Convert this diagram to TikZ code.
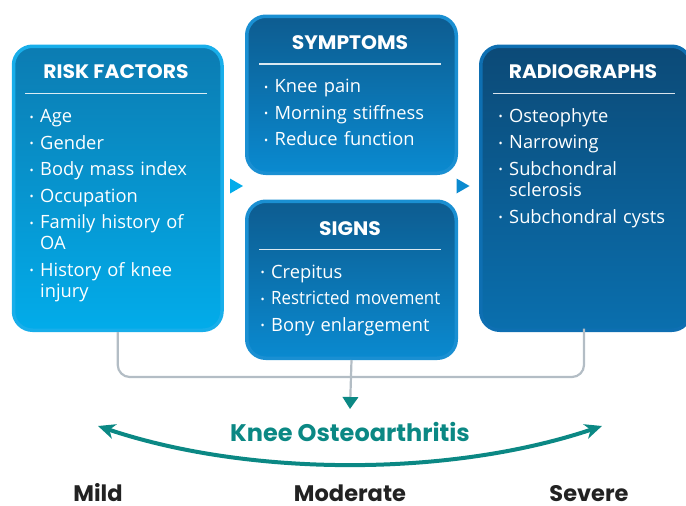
\documentclass[tikz,border=0pt]{standalone}
\usepackage{fontspec}
\setmainfont{Open Sans}
\newfontfamily\headfont{Poppins}
\usetikzlibrary{arrows.meta}

\definecolor{tealk}{HTML}{0B8884}
\definecolor{grayline}{HTML}{B3BDC5}
\definecolor{rfborder}{HTML}{18AEEA}
\definecolor{rftop}{HTML}{0C7CB2}
\definecolor{rfbot}{HTML}{02ACEA}
\definecolor{smborder}{HTML}{1A8FD2}
\definecolor{smtop}{HTML}{0D5C90}
\definecolor{smbot}{HTML}{0A8AD0}
\definecolor{rdborder}{HTML}{0E6FB2}
\definecolor{rdtop}{HTML}{0C4A77}
\definecolor{rdbot}{HTML}{0A6FAE}
\definecolor{labelink}{HTML}{222222}

\newcommand{\bitem}[1]{\noindent\hangindent=10.5pt\hangafter=1\makebox[10.5pt][l]{\raisebox{1.5pt}{\fontsize{11}{11}\selectfont •}}#1\par}

\tikzset{
  card/.style n args={3}{draw=#1, line width=3.5pt, top color=#2, bottom color=#3,
    rounded corners=19pt, inner sep=0pt, anchor=north west},
  cardtitle/.style={text=white, font=\headfont\bfseries\fontsize{19.5}{19.5}\selectfont, inner sep=0pt, xscale=1.04},
  sepline/.style={draw=white, opacity=0.85, line width=1.2pt},
  itemlist/.style={text=white, anchor=base west, inner sep=0pt, text width=#1, align=left,
    font=\fontsize{18.3}{21.3}\selectfont, execute at begin node={\setlength{\parskip}{5.2pt}}},
  conn/.style={draw=grayline, line width=2.2pt},
  level/.style={text=labelink, font=\headfont\bfseries\fontsize{22.5}{22.5}\selectfont, inner sep=0pt, anchor=base},
}

\begin{document}
\begin{tikzpicture}[x=1pt, y=-1pt]
\useasboundingbox (0,0) rectangle (686,506);

% cards
\node[card={rfborder}{rftop}{rfbot}, minimum width=208.5pt, minimum height=284pt] (rf) at (11.75,44.5) {};
\node[card={smborder}{smtop}{smbot}, minimum width=209.5pt, minimum height=157pt] (sym) at (245,14.5) {};
\node[card={smborder}{smtop}{smbot}, minimum width=209.5pt, minimum height=157pt] (sig) at (245,199.5) {};
\node[card={rdborder}{rdtop}{rdbot}, minimum width=210pt, minimum height=284pt] (rad) at (479,44.5) {};

% titles and separators
\node[cardtitle] (rft) at (116,71.7) {RISK FACTORS};
\draw[sepline] (25,93.3) -- (207,93.3);
\node[cardtitle] (symt) at (350,42.3) {SYMPTOMS};
\draw[sepline] (259,64) -- (441,64);
\node[cardtitle] (sigt) at (350,228.3) {SIGNS};
\draw[sepline] (259,249.3) -- (441,249.3);
\node[cardtitle] (radt) at (583,71.7) {RADIOGRAPHS};
\draw[sepline] (493,93.3) -- (675,93.3);

% lists
\node[itemlist=185pt] (rfl) at (29.5,122.5) {%
\bitem{Age}\bitem{Gender}\bitem{Body mass index}\bitem{Occupation}%
\bitem{Family history of\hfil\break OA}\bitem{History of knee\hfil\break injury}};
\node[itemlist=185pt] (syml) at (264,92.7) {%
\bitem{Knee pain}\bitem{Morning stiffness}\bitem{Reduce function}};
\node[itemlist=190pt] (sigl) at (260.5,278.3) {%
\bitem{Crepitus}\bitem{\scalebox{0.92}[1]{Restricted movement}}\bitem{Bony enlargement}};
\node[itemlist=185pt] (radl) at (498.5,122.3) {%
\bitem{Osteophyte}\bitem{Narrowing}\bitem{Subchondral\hfil\break sclerosis}\bitem{Subchondral cysts}};

% small flow triangles
\fill[rfbot] (230,178.5) -- (243,186) -- (230,193.5) -- cycle;
\fill[smbot] (456.5,178.5) -- (469.5,186) -- (456.5,193.5) -- cycle;

% grey connector
\coordinate (bus) at (350,377);
\coordinate (oatip) at (350,409);
\draw[conn, rounded corners=12pt] (rf.south) |- (bus) -| (584,328.5);
\draw[conn, -{Triangle[length=12pt, width=15.5pt, color=tealk]}] (sig.south) -- (oatip);

% knee osteoarthritis
\node[text=tealk, font=\headfont\bfseries\fontsize{24}{24}\selectfont, inner sep=0pt] (koa) at (350,432) {Knee Osteoarthritis};
\coordinate (mildend) at (98,426);
\coordinate (sevend) at (602,426);
\draw[tealk, line width=4pt, {Stealth[length=17pt, width=15pt, inset=5pt]}-{Stealth[length=17pt, width=15pt, inset=5pt]}]
  (mildend) .. controls (250,477) and (450,477) .. (sevend);

% levels
\node[level] (mild) at (98,501) {Mild};
\node[level] (mod) at (350,501) {Moderate};
\node[level] (sev) at (589,501) {Severe};
\end{tikzpicture}
\end{document}
